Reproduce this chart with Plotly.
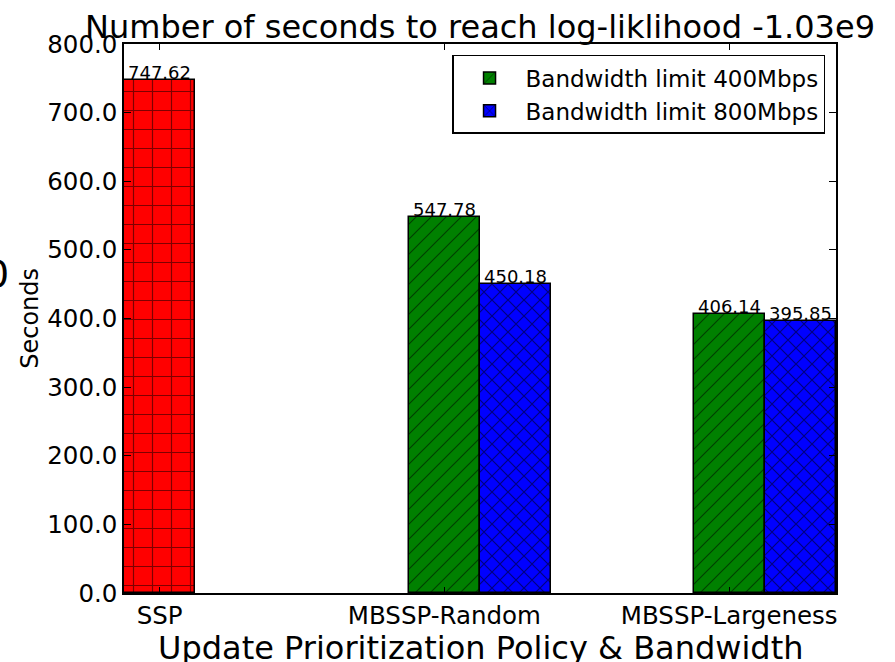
import math
import plotly.graph_objects as go

# Policies on the x axis and the time (seconds) each run needed
policies = ["SSP", "MBSSP-Random", "MBSSP-Largeness"]
policy_pos = [0, 1, 2]

ssp_seconds = [747.62]
bw400_seconds = [547.78, 406.14]
bw800_seconds = [450.18, 395.85]

y_ticks = [0, 100, 200, 300, 400, 500, 600, 700, 800]

BAR_W = 0.25
FONT = "DejaVu Sans"

# diagonal pattern tiles are size*sqrt(2) wide, so divide to get the horizontal pitch
DIAG_PITCH = 15 / math.sqrt(2)
CROSS_PITCH = 16 / math.sqrt(2)

fig = go.Figure()

# SSP: single red bar with a square grid hatch
fig.add_trace(go.Bar(
    x=[policy_pos[0]], y=ssp_seconds, width=BAR_W, showlegend=False,
    marker=dict(color="red", line=dict(color="black", width=1.5),
                pattern=dict(shape="+", fgcolor="black", size=19, solidity=0.12)),
))

# MBSSP variants, two bandwidth limits side by side
x400 = [p for p in policy_pos[1:]]
x800 = [p + BAR_W for p in policy_pos[1:]]
fig.add_trace(go.Bar(
    x=x400, y=bw400_seconds, width=BAR_W, name="Bandwidth limit 400Mbps",
    marker=dict(color="green", line=dict(color="black", width=1.5),
                pattern=dict(shape="/", fgcolor="black", size=DIAG_PITCH, solidity=0.11)),
))
fig.add_trace(go.Bar(
    x=x800, y=bw800_seconds, width=BAR_W, name="Bandwidth limit 800Mbps",
    marker=dict(color="blue", line=dict(color="black", width=1.5),
                pattern=dict(shape="x", fgcolor="black", size=CROSS_PITCH, solidity=0.2)),
))

# value labels sitting on top of each bar
annotations = []
for xs, ys in ((policy_pos[:1], ssp_seconds), (x400, bw400_seconds), (x800, bw800_seconds)):
    for xv, yv in zip(xs, ys):
        annotations.append(dict(
            x=xv, y=yv, xref="x", yref="y", text=f"{yv:.2f}", showarrow=False,
            xanchor="center", yanchor="bottom", yshift=-5,
            font=dict(family=FONT, size=18, color="black"),
        ))

# axis titles
annotations.append(dict(
    x=0.5, y=-0.0947, xref="paper", yref="paper", xanchor="center", yanchor="middle",
    yshift=-3,
    text="Update Prioritization Policy & Bandwidth", showarrow=False,
    font=dict(family=FONT, size=32, color="black"),
))
annotations.append(dict(
    x=-0.133, y=0.5, xref="paper", yref="paper", xanchor="center", yanchor="middle",
    text="Seconds", textangle=-90, showarrow=False,
    font=dict(family=FONT, size=24, color="black"),
))
# leftover large label partly outside the canvas
annotations.append(dict(
    x=-0.159, y=0.581, xref="paper", yref="paper", xanchor="right", yanchor="middle",
    text="0", showarrow=False,
    font=dict(family=FONT, size=38, color="black"),
))

fig.update_layout(
    width=895, height=662,
    margin=dict(l=124, r=59, t=44, b=69, pad=0),
    paper_bgcolor="white", plot_bgcolor="white",
    barmode="overlay",
    bargap=0,
    font=dict(family=FONT, color="black"),
    title=dict(
        text="Number of seconds to reach log-liklihood -1.03e9",
        x=0.5, xref="paper", xanchor="center",
        y=1 - 27 / 662, yref="container", yanchor="middle",
        font=dict(family=FONT, size=32, color="black"),
    ),
    legend=dict(
        x=0.9846, y=0.980, xref="paper", yref="paper", xanchor="right", yanchor="top",
        bgcolor="white", bordercolor="black", borderwidth=1.5,
        font=dict(family=FONT, size=23, color="black"),
        itemwidth=62,
    ),
    annotations=annotations,
)

fig.update_xaxes(
    range=[-0.125, 2.375], tickmode="array", tickvals=policy_pos, ticktext=policies,
    ticks="inside", ticklen=6, tickwidth=1, tickcolor="black",
    showline=True, linecolor="black", linewidth=1.5, mirror="ticks",
    showgrid=False, zeroline=False,
    tickfont=dict(family=FONT, size=24.5, color="black"),
)
fig.update_yaxes(
    range=[0, 800], tickmode="array", tickvals=y_ticks, tickformat=".1f",
    ticks="inside", ticklen=7, tickwidth=1, tickcolor="black",
    showline=True, linecolor="black", linewidth=1.5, mirror="ticks",
    showgrid=False, zeroline=False,
    tickfont=dict(family=FONT, size=24.5, color="black"),
)

fig.write_html("out.html")
